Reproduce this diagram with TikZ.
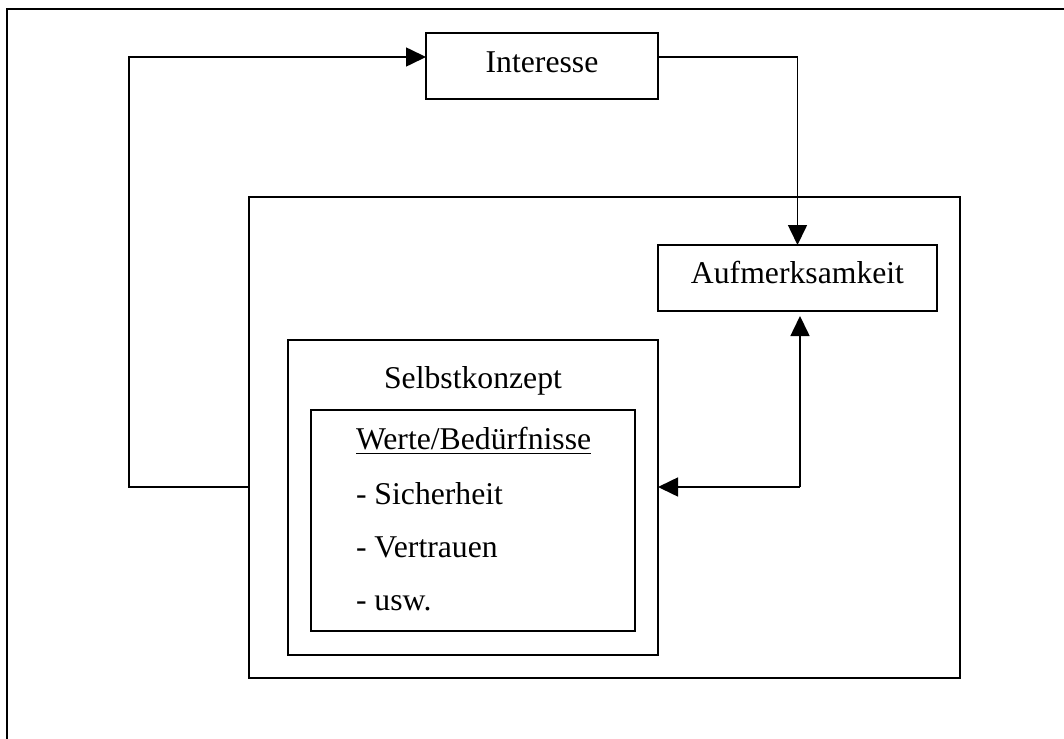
\documentclass[tikz,border=0pt]{standalone}
\usepackage{fontspec}
\setmainfont{Liberation Serif}
\usetikzlibrary{arrows.meta}
\begin{document}
\begin{tikzpicture}[x=1pt,y=-1pt,
  box/.style={draw,line width=1.6pt,inner sep=0pt,outer sep=0pt,rectangle},
  txt/.style={inner sep=0pt,outer sep=0pt,font=\fontsize{31.7}{38}\selectfont},
  link/.style={line width=1.6pt},
  tip/.style={link,-{Triangle[length=20pt,width=19pt]}}]
\useasboundingbox (0,0) rectangle (1064,738);
% page frame: only its left and top edges lie inside the picture
\coordinate (fbl) at (7,745);
\coordinate (ftl) at (7,9);
\coordinate (ftr) at (1070,9);
\draw[link] (fbl) -- (ftl) -- (ftr);

% boxes
\node[box,minimum width=232pt,minimum height=66pt] (interesse) at (542,66) {};
\node[box,minimum width=711pt,minimum height=481pt] (outer) at (604.5,437.5) {};
\node[box,minimum width=279pt,minimum height=66pt] (aufm) at (797.5,278) {};
\node[box,minimum width=370pt,minimum height=315pt] (selbst) at (473,497.5) {};
\node[box,minimum width=324pt,minimum height=221pt] (werte) at (473,520.5) {};

% labels
\node[txt,anchor=base] (tinteresse) at (542,73) {Interesse};
\node[txt,anchor=base] (taufm) at (797.5,283) {Aufmerksamkeit};
\node[txt,anchor=base] (tselbst) at (473,388) {Selbstkonzept};
\node[txt,anchor=base west] (twerte) at (356,449) {Werte/Bedürfnisse};
\draw[line width=1.4pt] ([yshift=-4.5pt]twerte.base west) -- ([yshift=-4.5pt]twerte.base east);
\node[txt,anchor=base west] (tsich) at (356,504) {- Sicherheit};
\node[txt,anchor=base west] (tvertr) at (356,557) {- Vertrauen};
\node[txt,anchor=base west] (tusw) at (356,610) {- usw.};

% connectors
\coordinate (loopA) at (129,487);
\coordinate (loopB) at (129,57);
\draw[tip] (outer.west |- loopA) -- (loopA) -- (loopB) -- (interesse.west |- loopB);
\coordinate (topR) at (797.5,57);
\draw[tip] (interesse.east |- topR) -- (topR) -- (aufm.north);
\coordinate (backC) at (800,487);
\draw[tip,shorten >=5pt] (backC) -- (backC |- aufm.south);
\draw[tip] (backC) -- (selbst.east |- backC);
\end{tikzpicture}
\end{document}
